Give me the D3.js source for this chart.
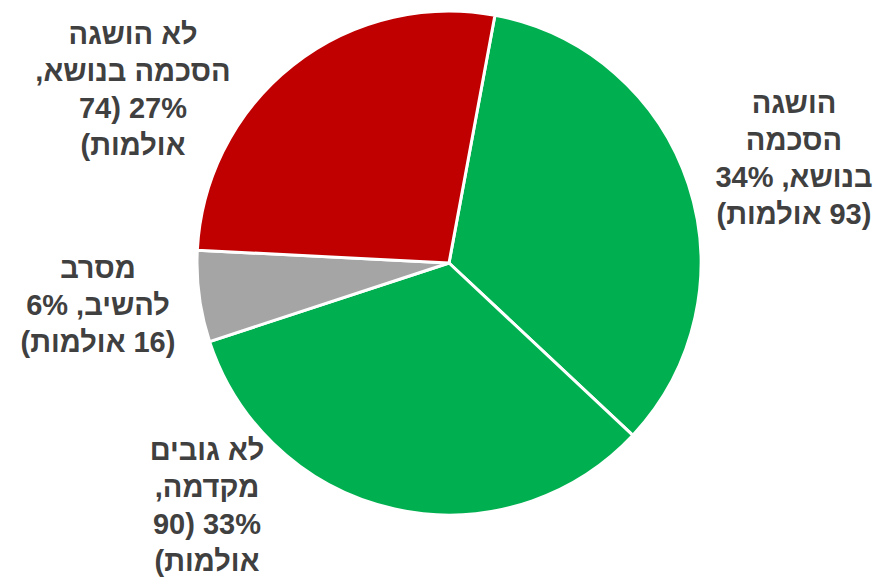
<!DOCTYPE html>
<html>
<head>
<meta charset="utf-8">
<script src="https://cdn.jsdelivr.net/npm/d3@7"></script>
<style>
  html, body { margin: 0; padding: 0; background: #fff; }
  svg { display: block; }
</style>
</head>
<body>
<svg id="chart"></svg>
<script>
// données
const categories = ["הושגה הסכמה בנושא", "לא גובים מקדמה", "מסרב להשיב", "לא הושגה הסכמה בנושא"];
const values = [93, 90, 16, 74];
const colors = ["#00B050", "#00B050", "#A5A5A5", "#C00000"];
// lignes des étiquettes (ordre logique, rendu rtl)
const labelLines = [
  ["הושגה", "הסכמה", "בנושא, 34%", "(93 אולמות)"],
  ["לא גובים", "מקדמה,", "33% (90", "אולמות)"],
  ["מסרב", "להשיב, 6%", "(16 אולמות)"],
  ["לא הושגה", "הסכמה בנושא,", "27% (74", "אולמות)"]
];

const width = 879, height = 577;
const cx = 449, cy = 263, radius = 252;

// position du premier baseline de chaque étiquette, relative au centre
const labelPos = [[345, -150], [-242, 197], [-351, 15], [-316, -219]];
const lineHeight = 37;

const svg = d3.select("#chart")
  .attr("width", width)
  .attr("height", height);

const g = svg.append("g").attr("transform", `translate(${cx},${cy})`);

const pie = d3.pie()
  .sort(null)
  .value(d => d)
  .startAngle(10.5 * Math.PI / 180)
  .endAngle((10.5 + 360) * Math.PI / 180);

const arc = d3.arc().innerRadius(0).outerRadius(radius);

g.selectAll("path")
  .data(pie(values))
  .enter()
  .append("path")
  .attr("d", arc)
  .attr("fill", (d, i) => colors[i])
  .attr("stroke", "#fff")
  .attr("stroke-width", 3)
  .attr("stroke-linejoin", "round");

// étiquettes
const labels = g.selectAll(".lbl")
  .data(labelLines)
  .enter()
  .append("text")
  .attr("class", "lbl")
  .attr("direction", "rtl")
  .attr("text-anchor", "middle")
  .attr("fill", "#404040")
  .style("font-family", "'Liberation Sans', Arial, sans-serif")
  .style("font-weight", "bold")
  .style("font-size", "29px");

labels.each(function(lines, i) {
  const t = d3.select(this);
  lines.forEach((line, j) => {
    t.append("tspan")
      .attr("x", labelPos[i][0])
      .attr("y", labelPos[i][1] + j * lineHeight)
      .text(line);
  });
});
</script>
</body>
</html>
